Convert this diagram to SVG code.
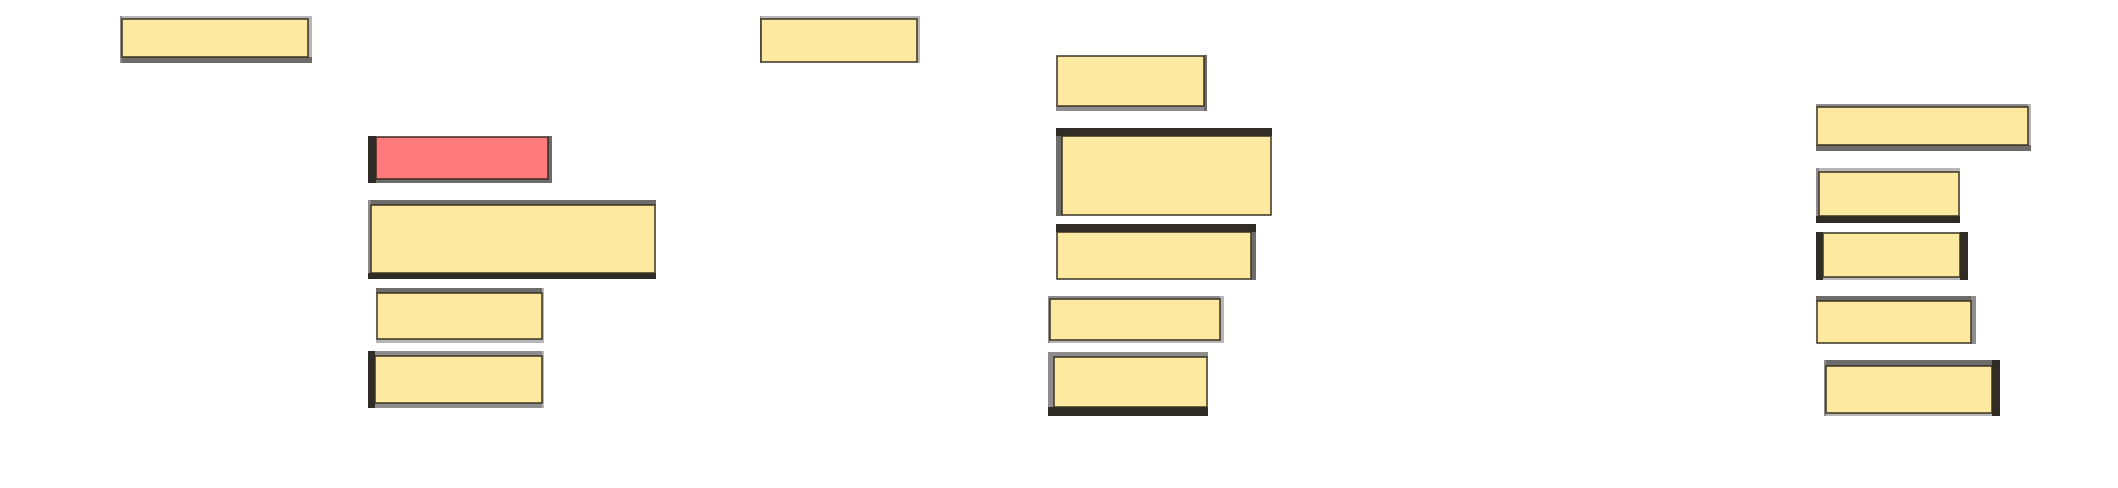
<svg xmlns="http://www.w3.org/2000/svg" width="2118" height="488" viewBox="0 0 2118 488">
<style>
.d{fill:#2f2b27}.m{fill:#6e6b6b}.g{fill:#8e8c8c}.l{fill:#b8b6b6}
.n{fill:#fee9a1;stroke:#3a3322;stroke-width:1.5}
.r{fill:#ff7b7b;stroke:#3a2a22;stroke-width:1.5}
</style>
<rect width="2118" height="488" fill="#ffffff"/>
<g id="n1"><rect class="l" x="120" y="16" width="192" height="3"/><rect class="l" x="308" y="16" width="4" height="47"/><rect class="m" x="120" y="57" width="192" height="6"/><rect class="g" x="120" y="16" width="2" height="47"/><rect class="n" x="122" y="19" width="186" height="38"/></g>
<g id="n2"><rect class="l" x="760" y="16" width="160" height="3"/><rect class="l" x="917" y="16" width="3" height="47"/><rect class="g" x="760" y="16" width="1" height="47"/><rect class="n" x="761" y="19" width="156" height="43"/></g>
<g id="n3"><rect class="g" x="1056" y="106" width="151" height="5"/><rect class="m" x="1204" y="55" width="3" height="56"/><rect class="n" x="1057" y="56" width="147" height="50"/></g>
<g id="n4"><rect class="m" x="368" y="179" width="184" height="4"/><rect class="m" x="548" y="136" width="4" height="47"/><rect class="d" x="368" y="136" width="8" height="47"/><rect class="r" x="376" y="137" width="172" height="42"/></g>
<g id="n5"><rect class="m" x="368" y="200" width="288" height="5"/><rect class="g" x="368" y="200" width="3" height="79"/><rect class="d" x="368" y="273" width="288" height="6"/><rect class="n" x="371" y="205" width="284" height="68"/></g>
<g id="n6"><rect class="m" x="376" y="288" width="168" height="5"/><rect class="l" x="376" y="339" width="168" height="4"/><rect class="l" x="542" y="288" width="2" height="55"/><rect class="n" x="377" y="293" width="165" height="46"/></g>
<g id="n7"><rect class="g" x="368" y="351" width="176" height="5"/><rect class="g" x="368" y="403" width="176" height="5"/><rect class="l" x="542" y="351" width="2" height="57"/><rect class="d" x="368" y="351" width="7" height="57"/><rect class="n" x="375" y="356" width="167" height="47"/></g>
<g id="n8"><rect class="m" x="1056" y="128" width="6" height="88"/><rect class="d" x="1056" y="128" width="216" height="8"/><rect class="n" x="1062" y="136" width="209" height="79"/></g>
<g id="n9"><rect class="m" x="1251" y="224" width="5" height="56"/><rect class="d" x="1056" y="224" width="200" height="8"/><rect class="n" x="1057" y="232" width="194" height="47"/></g>
<g id="n10"><rect class="g" x="1048" y="296" width="176" height="3"/><rect class="l" x="1220" y="296" width="4" height="47"/><rect class="l" x="1048" y="340" width="176" height="3"/><rect class="g" x="1048" y="296" width="2" height="47"/><rect class="n" x="1050" y="299" width="170" height="41"/></g>
<g id="n11"><rect class="g" x="1048" y="352" width="160" height="5"/><rect class="g" x="1048" y="352" width="6" height="64"/><rect class="d" x="1048" y="407" width="160" height="9"/><rect class="n" x="1054" y="357" width="153" height="50"/></g>
<g id="n12"><rect class="g" x="1816" y="104" width="215" height="3"/><rect class="l" x="2028" y="104" width="3" height="47"/><rect class="m" x="1816" y="145" width="215" height="6"/><rect class="n" x="1817" y="107" width="211" height="38"/></g>
<g id="n13"><rect class="l" x="1816" y="168" width="144" height="4"/><rect class="g" x="1816" y="168" width="3" height="55"/><rect class="d" x="1816" y="216" width="144" height="7"/><rect class="n" x="1819" y="172" width="140" height="44"/></g>
<g id="n14"><rect class="l" x="1816" y="277" width="152" height="3"/><rect class="d" x="1816" y="232" width="7" height="48"/><rect class="d" x="1960" y="232" width="8" height="48"/><rect class="n" x="1823" y="233" width="137" height="44"/></g>
<g id="n15"><rect class="m" x="1816" y="296" width="160" height="5"/><rect class="g" x="1971" y="296" width="5" height="48"/><rect class="n" x="1817" y="301" width="154" height="42"/></g>
<g id="n16"><rect class="m" x="1824" y="360" width="176" height="6"/><rect class="l" x="1824" y="413" width="176" height="3"/><rect class="g" x="1824" y="360" width="2" height="56"/><rect class="d" x="1992" y="360" width="8" height="56"/><rect class="n" x="1826" y="366" width="166" height="47"/></g>
<g id="connectors"></g>
</svg>
